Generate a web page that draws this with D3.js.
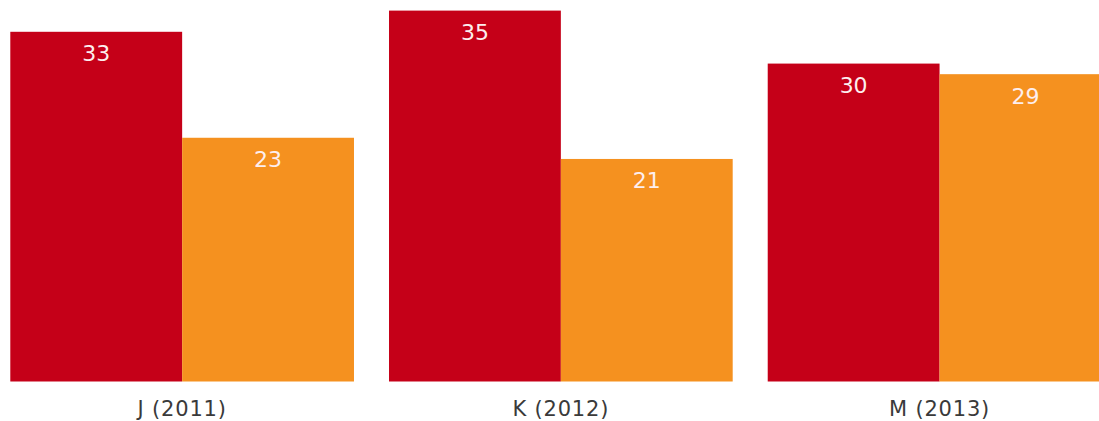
<!DOCTYPE html>
<html>
<head>
<meta charset="utf-8">
<script src="https://cdn.jsdelivr.net/npm/d3@7"></script>
<style>
  html, body { margin: 0; padding: 0; background: #fff; overflow: hidden; }
  svg { display: block; }
</style>
</head>
<body>
<svg id="chart" width="1099" height="421"></svg>
<script>
// Grouped bar data
const categories = ["J (2011)", "K (2012)", "M (2013)"];
const seriesNames = ["A", "B"];
const seriesA = [33, 35, 30];
const seriesB = [23, 21, 29];
const colors = ["#c50018", "#f5911f"];

const width = 1099, height = 421;
const margin = { top: 0, left: 10.3, bottom: 39.5 };
const plotRight = 1111.4; // last group runs past the visible edge
const baseY = height - margin.bottom;

const svg = d3.select("#chart");

const x0 = d3.scaleBand()
  .domain(categories)
  .range([margin.left, plotRight])
  .paddingInner(0.0925)
  .paddingOuter(0);

const x1 = d3.scaleBand()
  .domain(seriesNames)
  .range([0, x0.bandwidth()])
  .padding(0);

const y = d3.scaleLinear()
  .domain([0, 36])
  .range([baseY, margin.top]);

const color = d3.scaleOrdinal().domain(seriesNames).range(colors);

const rows = categories.map((c, i) => ({
  category: c,
  values: [
    { key: "A", value: seriesA[i] },
    { key: "B", value: seriesB[i] }
  ]
}));

const groups = svg.append("g")
  .selectAll("g")
  .data(rows)
  .join("g")
  .attr("transform", d => `translate(${x0(d.category)},0)`);

groups.selectAll("rect")
  .data(d => d.values)
  .join("rect")
  .attr("x", d => x1(d.key))
  .attr("y", d => y(d.value))
  .attr("width", x1.bandwidth())
  .attr("height", d => y(0) - y(d.value))
  .attr("fill", d => color(d.key));

groups.selectAll("text")
  .data(d => d.values)
  .join("text")
  .attr("x", d => x1(d.key) + x1.bandwidth() / 2)
  .attr("y", d => y(d.value) + 29.5)
  .attr("text-anchor", "middle")
  .attr("font-family", "Verdana, 'DejaVu Sans', sans-serif")
  .attr("font-size", 22)
  .attr("fill", "#fdeeee")
  .text(d => d.value);

// Category axis
const xAxis = d3.axisBottom(x0).tickSize(0).tickPadding(0);
const axisG = svg.append("g")
  .attr("transform", `translate(0,${baseY})`)
  .call(xAxis);
axisG.select(".domain").remove();
axisG.selectAll("text")
  .attr("y", 34.5)
  .attr("dy", 0)
  .attr("font-family", "Verdana, 'DejaVu Sans', sans-serif")
  .attr("font-size", 21)
  .attr("letter-spacing", "0.8px")
  .attr("fill", "#3a3a3a");
</script>
</body>
</html>
